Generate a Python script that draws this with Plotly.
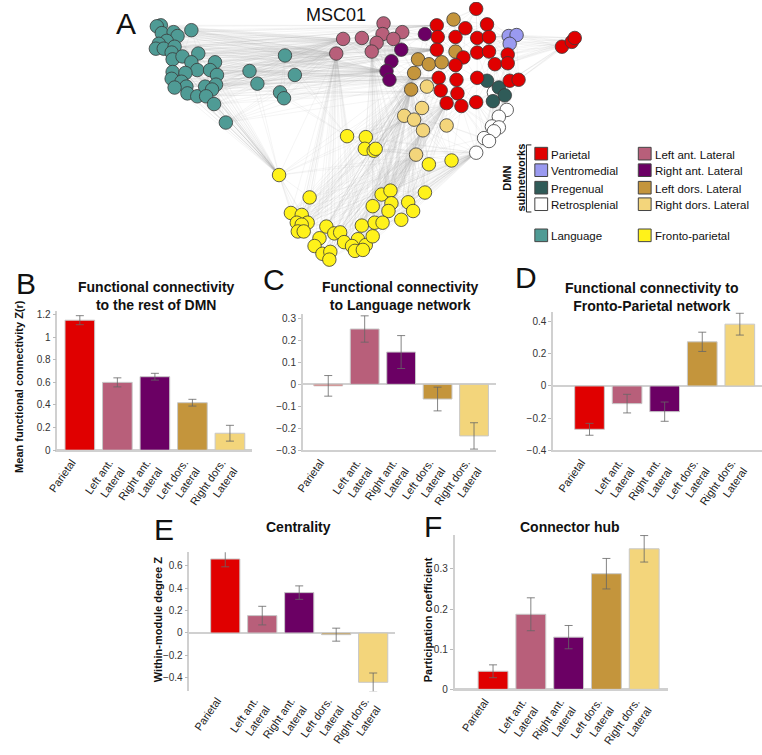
import numpy as np
import plotly.graph_objects as go

W, H = 762, 755

# ---- panel A: node positions (pixels) per module ----
language_x = [183, 152, 148, 153, 165, 169, 158, 150, 147, 155, 166, 163, 164, 174, 190, 183, 189, 207, 202, 209,
              164, 177, 163, 173, 178, 166, 179, 189, 197, 208, 204, 198, 206, 218, 242, 250, 278, 288, 273, 277]
language_y = [29, 24, 25, 32, 31, 35, 40, 43, 48, 48, 46, 52, 59, 56, 53, 62, 70, 62, 70, 75,
              72, 73, 79, 82, 87, 88, 94, 97, 87, 85, 90, 97, 105, 124, 71, 84, 55, 75, 93, 99]
parietal_x = [472, 432, 461, 483, 433, 451, 473, 485, 432, 459, 473, 485, 451, 491, 504, 504, 434, 452, 473, 506,
              515, 436, 453, 442, 457, 472, 559, 569, 572]
parietal_y = [7, 24, 27, 23, 36, 36, 37, 36, 49, 57, 52, 51, 65, 64, 54, 63, 78, 80, 78, 81,
              80, 91, 94, 104, 107, 103, 46, 41, 37]
ventromedial_x = [505, 513, 506]
ventromedial_y = [35, 34, 43]
pregenual_x = [483, 495, 501, 489]
pregenual_y = [81, 88, 96, 102]
retrosplenial_x = [490, 503, 495, 488, 495, 490, 480, 485, 472]
retrosplenial_y = [93, 111, 118, 128, 129, 133, 140, 143, 155]
left_ant_x = [378, 377, 397, 388, 371, 356, 337, 366, 330]
left_ant_y = [22, 33, 31, 38, 42, 37, 38, 51, 53]
right_ant_x = [420, 396, 386, 381, 384]
right_ant_y = [33, 49, 61, 71, 80]
left_dors_x = [449, 451, 413, 424, 437, 409, 406]
left_dors_y = [18, 51, 59, 64, 62, 73, 90]
right_dors_x = [422, 417, 399, 409, 418, 442, 411]
right_dors_y = [87, 109, 117, 121, 132, 127, 157]
fronto_x = [341, 360, 359, 368, 370, 272, 303, 424, 447, 420, 376, 385, 386, 367, 383, 403, 408, 396, 284, 295,
            290, 301, 295, 291, 297, 320, 356, 369, 377, 313, 328, 334, 338, 352, 346, 360, 367, 308, 316, 324,
            323, 349, 357]
fronto_y = [138, 139, 151, 153, 151, 178, 201, 167, 163, 196, 198, 194, 207, 210, 215, 206, 215, 224, 217, 219,
            227, 227, 229, 236, 236, 231, 230, 227, 227, 243, 238, 237, 247, 244, 251, 250, 241, 251, 259, 257,
            265, 256, 255]

# ---- panels B-F ----
categories = ["Parietal", "Left ant.<br>Lateral", "Right ant.<br>Lateral",
              "Left dors.<br>Lateral", "Right dors.<br>Lateral"]
fc_dmn = [1.15, 0.60, 0.65, 0.42, 0.15]
fc_dmn_err = [0.04, 0.04, 0.03, 0.03, 0.07]
fc_language = [-0.007, 0.252, 0.147, -0.067, -0.235]
fc_language_err = [0.047, 0.06, 0.075, 0.054, 0.06]
fc_fronto = [-0.27, -0.11, -0.16, 0.275, 0.385]
fc_fronto_err = [0.037, 0.058, 0.06, 0.06, 0.068]
centrality = [0.66, 0.155, 0.36, -0.015, -0.44]
centrality_err = [0.07, 0.083, 0.06, 0.058, 0.083]
participation = [0.045, 0.187, 0.13, 0.288, 0.35]
participation_err = [0.016, 0.041, 0.029, 0.038, 0.033]

C_PAR, C_VM, C_PG, C_RS = "#e00000", "#9a9af0", "#2f5b58", "#ffffff"
C_LA, C_RA, C_LD, C_RD = "#b85f7a", "#6b0064", "#c4953c", "#f3d57b"
C_LANG, C_FP = "#4f9b95", "#fff21a"
bar_colors = [C_PAR, C_LA, C_RA, C_LD, C_RD]

FONT = "Liberation Sans, Arial, sans-serif"

modules = [
    (language_x, language_y, C_LANG),
    (fronto_x, fronto_y, C_FP),
    (retrosplenial_x, retrosplenial_y, C_RS),
    (right_dors_x, right_dors_y, C_RD),
    (left_dors_x, left_dors_y, C_LD),
    (right_ant_x, right_ant_y, C_RA),
    (left_ant_x, left_ant_y, C_LA),
    (pregenual_x, pregenual_y, C_PG),
    (ventromedial_x, ventromedial_y, C_VM),
    (parietal_x, parietal_y, C_PAR),
]

# edges: nearest neighbours inside the layout, plus links between modules
pts = np.concatenate([np.column_stack([mx, my]) for mx, my, _ in modules]).astype(float)
gid = np.concatenate([[g] * len(mx) for g, (mx, my, _) in enumerate(modules)])
dist = np.hypot(pts[:, None, 0] - pts[None, :, 0], pts[:, None, 1] - pts[None, :, 1])
np.fill_diagonal(dist, np.inf)
edges = set()
dmn = gid >= 2
for i in range(len(pts)):
    k = 12 if dmn[i] else 7
    pool = np.where(dmn)[0] if dmn[i] else np.arange(len(pts))
    for j in pool[np.argsort(dist[i, pool])][:k]:
        edges.add((min(i, j), max(i, j)))
cross = [(0, 6, 2), (0, 9, 2), (0, 1, 1), (0, 5, 1), (1, 3, 2), (1, 2, 1), (1, 4, 2), (1, 9, 1), (1, 6, 1)]
for ga, gb, k in cross:
    ib = np.where(gid == gb)[0]
    for i in np.where(gid == ga)[0]:
        for j in ib[np.argsort(dist[i, ib])][:k]:
            edges.add((min(i, j), max(i, j)))
ex, ey = [], []
for i, j in sorted(edges):
    ex += [pts[i, 0], pts[j, 0], None]
    ey += [pts[i, 1], pts[j, 1], None]

fig = go.Figure()
fig.add_trace(go.Scatter(x=ex, y=ey, mode="lines", line=dict(color="rgba(150,150,150,0.17)", width=0.6),
                         hoverinfo="skip", xaxis="x", yaxis="y"))
for mx, my, col in modules:
    fig.add_trace(go.Scatter(x=mx, y=my, mode="markers", xaxis="x", yaxis="y",
                             marker=dict(size=13.5, color=col, line=dict(color="#3a3a3a", width=0.8))))

panels = [
    (fc_dmn, fc_dmn_err, (47, 245), (318, 461), [-0.6, 4.6], [0, 1.23], 0.2, True),
    (fc_language, fc_language_err, (296, 492), (321, 461), [-0.7, 4.6], [-0.3, 0.32], 0.1, True),
    (fc_fronto, fc_fronto_err, (550, 762), (319, 461), [-0.97, 4.59], [-0.4, 0.46], 0.2, True),
    (centrality, centrality_err, (181, 390), (566, 709), [-0.97, 4.6], [-0.52, 0.72], 0.2, False),
    (participation, participation_err, (450, 667), (548, 707), [-1.02, 4.64], [0, 0.385], 0.1, True),
]

pos = np.arange(len(categories))
layout_axes = {}
for n, (vals, err, xd, yd, xr, yr, dt, bline) in enumerate(panels, start=2):
    fig.add_trace(go.Bar(x=pos, y=vals, xaxis=f"x{n}", yaxis=f"y{n}", width=0.79,
                         marker=dict(color=bar_colors, line=dict(color="#c8c8c8", width=1)),
                         error_y=dict(type="data", array=err, color="#666", thickness=0.8, width=4)))
    layout_axes[f"xaxis{n}"] = dict(domain=[xd[0] / W, xd[1] / W], range=xr, anchor=f"y{n}",
                                    showline=bline, linecolor="#d0d0d0", linewidth=1.5, ticks="",
                                    tickmode="array", tickvals=pos - 0.22, ticktext=categories,
                                    tickangle=-55, tickfont=dict(size=11, color="#222", family=FONT),
                                    showgrid=False, zeroline=False, fixedrange=True)
    layout_axes[f"yaxis{n}"] = dict(domain=[1 - yd[1] / H, 1 - yd[0] / H], range=yr, anchor=f"x{n}",
                                    dtick=dt, showline=True, linecolor="#d0d0d0", linewidth=1.5,
                                    ticks="outside", ticklen=3, tickcolor="#bbb", showgrid=False,
                                    zeroline=True, zerolinecolor="#d0d0d0", zerolinewidth=1.5,
                                    tickfont=dict(size=10, color="#333", family=FONT), fixedrange=True)

ann = []


def note(x, y, text, size=12, bold=False, angle=0, anchor="center", color="#111"):
    ann.append(dict(x=x, y=y, xref="x", yref="y", text=f"<b>{text}</b>" if bold else text,
                    showarrow=False, textangle=angle, xanchor=anchor, yanchor="middle",
                    font=dict(size=size, color=color, family=FONT)))


# panel letters and titles
for letter, lx, ly in [("A", 117, 22), ("B", 15, 290), ("C", 267, 285), ("D", 523, 283), ("E", 155, 543), ("F", 428, 540)]:
    note(lx, ly, letter, size=30)
note(330, 13, "MSC01", size=18)
note(148, 302, "Functional connectivity<br>to the rest of DMN", size=14, bold=True)
note(395, 302, "Functional connectivity<br>to Language network", size=14, bold=True)
note(650, 303, "Functional connectivity to<br>Fronto-Parietal network", size=14, bold=True)
note(292, 540, "Centrality", size=14, bold=True)
note(567, 540, "Connector hub", size=14, bold=True)
note(8, 395, "Mean functional connectivity Z(r)", size=11, bold=True, angle=-90)
note(150, 635, "Within-module degree Z", size=11, bold=True, angle=-90)
note(423, 635, "Participation coefficient", size=11, bold=True, angle=-90)

# legend for panel A
shapes = [dict(type="path", xref="x", yref="y", path="M 528 147 L 523 147 L 523 216 L 528 216",
               line=dict(color="#222", width=1))]
note(503, 181, "DMN", size=11, bold=True, angle=-90)
note(517, 181, "subnetworks", size=11, bold=True, angle=-90)
legend_items = [
    (538, 156, C_PAR, "Parietal"), (538, 173, C_VM, "Ventromedial"), (538, 191, C_PG, "Pregenual"),
    (538, 208, C_RS, "Retrosplenial"), (643, 156, C_LA, "Left ant. Lateral"), (643, 173, C_RA, "Right ant. Lateral"),
    (643, 191, C_LD, "Left dors. Lateral"), (643, 208, C_RD, "Right dors. Lateral"),
    (538, 240, C_LANG, "Language"), (643, 240, C_FP, "Fronto-parietal"),
]
for sx, sy, col, lab in legend_items:
    shapes.append(dict(type="rect", xref="x", yref="y", x0=sx - 6.5, x1=sx + 6.5, y0=sy - 6.5, y1=sy + 6.5,
                       fillcolor=col, line=dict(color="#444", width=1)))
    note(sx + 8, sy + 1, lab, size=11.5, anchor="left")

fig.update_layout(
    width=W, height=H, margin=dict(l=0, r=0, t=0, b=0), showlegend=False,
    plot_bgcolor="white", paper_bgcolor="white",
    xaxis=dict(domain=[0, 1], range=[0, W], visible=False, fixedrange=True),
    yaxis=dict(domain=[0, 1], range=[H, 0], visible=False, fixedrange=True),
    annotations=ann, shapes=shapes, font=dict(family=FONT),
    **layout_axes,
)

# pin the page to exactly the figure size (no body margin, no stray line boxes)
page_js = (
    "var b=document.body, d=document.documentElement;"
    "b.style.margin='0'; b.style.padding='0'; b.style.fontSize='0'; b.style.lineHeight='0';"
    "b.style.width='762px'; b.style.height='755px'; b.style.overflow='hidden';"
    "d.style.width='762px'; d.style.height='755px'; d.style.overflow='hidden';"
)
fig.write_html("out.html", config={"displayModeBar": False}, post_script=page_js)
